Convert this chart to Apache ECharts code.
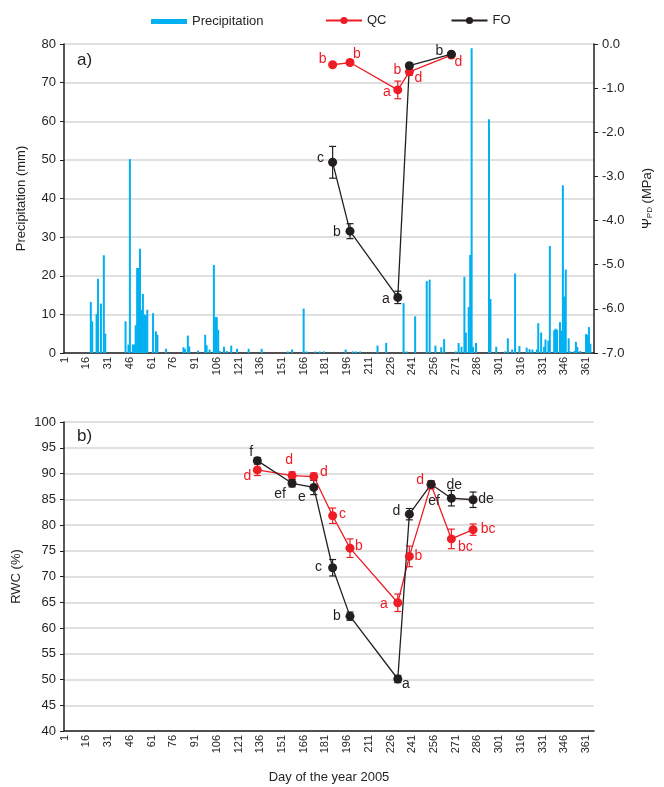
<!DOCTYPE html>
<html>
<head>
<meta charset="utf-8">
<script src="https://cdn.jsdelivr.net/npm/echarts@6/dist/echarts.min.js"></script>
<style>
html,body{margin:0;padding:0;background:#fff;}
#chart{width:664px;height:787px;}
</style>
</head>
<body>
<div id="chart"></div>
<script>
// ---------- DATA ----------
const dayCount = 366;
const tickLabels = ['1','16','31','46','61','76','91','106','121','136','151','166','181','196','211','226','241','256','271','286','301','316','331','346','361'];

// daily precipitation (mm): day of year and amount
const precipDays = [19,20,23,24,26,28,29,43,45,46,48,49,50,51,52,53,54,55,56,57,58,62,64,65,71,83,84,86,87,93,98,99,101,104,105,106,107,108,111,113,116,120,128,137,155,158,166,168,174,177,180,195,200,202,205,217,223,235,237,243,251,253,257,261,263,271,273,275,277,278,280,281,282,283,285,294,295,299,305,307,310,312,315,320,322,324,327,328,330,332,333,335,336,339,340,341,343,344,345,346,347,349,350,353,354,355,357,361,362,363,364];
const precipMm   = [13.2,8.2,10.1,19.2,12.8,25.3,5.0,8.2,2.2,50.2,2.2,2.2,7.2,22.0,22.0,27.0,11.2,15.3,10.0,9.8,11.2,10.3,5.6,4.7,1.1,1.5,1.1,4.5,1.7,0.6,4.7,2.0,0.9,22.8,9.3,9.3,6.0,0.5,1.6,0.5,1.9,1.1,1.1,1.1,0.4,0.9,11.5,0.4,0.4,0.4,0.4,0.9,0.4,0.4,0.4,1.9,2.6,12.9,0.4,9.5,18.6,19.0,1.9,1.5,3.6,0.4,2.6,1.6,19.7,5.3,11.9,25.4,78.9,1.6,2.6,60.5,14.0,1.6,0.4,3.8,0.9,20.6,1.8,1.4,1.0,0.9,0.9,7.7,5.3,1.6,3.5,3.2,27.7,5.9,6.3,6.0,8.0,5.8,43.4,14.6,21.6,3.8,0.4,0.5,2.9,1.6,0.5,4.9,4.7,6.7,2.4];

// predawn water potential (MPa)
const psiDays  = [186,198,231,239,268];
const qcPsi    = [-0.47,-0.42,-1.04,-0.63,-0.25];
const qcPsiErr = [0.04,0.04,0.20,0.08,0.05];
const qcPsiLetters = ['b','b','a','d','d'];
const foPsi    = [-2.68,-4.24,-5.74,-0.49,-0.23];
const foPsiErr = [0.36,0.17,0.14,0.05,0.04];
const foPsiLetters = ['c','b','a','b','b'];

// relative water content (%)
const rwcDays  = [134,158,173,186,198,231,239,254,268,283];
const qcRwc    = [90.7,89.6,89.4,81.8,75.5,64.9,73.9,87.8,77.3,79.1];
const qcRwcErr = [1.1,0.7,0.7,1.5,1.8,1.7,2.0,0.8,1.9,1.1];
const qcRwcLetters = ['d','d','d','c','b','a','b','d','bc','bc'];
const foRwc    = [92.5,88.1,87.3,71.7,62.3,50.1,82.1,87.9,85.2,84.9];
const foRwcErr = [0.6,0.7,1.4,1.6,0.8,0.7,1.1,0.6,1.5,1.5];
const foRwcLetters = ['f','ef','e','c','b','a','d','ef','de','de'];

// ---------- STYLE (label placement offsets, px) ----------
const qcPsiOff = [[-10,-6],[7,-8],[-11,2],[9,6],[7,7]];
const foPsiOff = [[-12,-4],[-13,1],[-12,2],[-12,5],[-12,-3]];
const foPsiLabelColor = [null,null,null,'#EE1C25',null];
const qcRwcOff = [[-10,6],[-3,-15],[10,-4],[10,-2],[9,-2],[-14,1],[9,0],[-11,-5],[14,8],[15,0]];
const foRwcOff = [[-6,-8],[-12,11],[-12,10],[-14,-1],[-13,0],[8,5],[-13,-3],[3,17],[3,-13],[13,-1]];

const RED = '#EE1C25', BLACK = '#231F20', BLUE = '#00B0F0';
const FONT = 'Liberation Sans, Arial, sans-serif';
const TXT = '#231F20';

// ---------- BUILD ----------
const days = [];
for (let d = 1; d <= dayCount; d++) days.push(String(d));
const precipSeries = days.map(() => null);
precipDays.forEach((d, i) => { precipSeries[d - 1] = precipMm[i]; });

const showTick = (idx, val) => tickLabels.indexOf(val) >= 0;

function xAxisCfg(gridIndex, withName) {
  return {
    type: 'category', gridIndex, data: days, boundaryGap: true,
    axisLine: {onZero: false, lineStyle: {color: BLACK, width: 1.5}},
    axisTick: {interval: showTick, alignWithLabel: true, length: 3, lineStyle: {color: BLACK}},
    axisLabel: {interval: showTick, rotate: 90, fontSize: 11, color: TXT, fontFamily: FONT, margin: 4},
    splitLine: {show: false},
    name: withName ? 'Day of the year 2005' : '',
    nameLocation: 'middle', nameGap: 40,
    nameTextStyle: {fontSize: 13, color: TXT, fontFamily: FONT}
  };
}

function pointData(ds, vals, letters, offs, colors) {
  return ds.map((d, i) => {
    const lab = {formatter: letters[i], offset: offs[i]};
    if (colors && colors[i]) lab.color = colors[i];
    return {value: [d - 1, vals[i]], label: lab};
  });
}

function lineSeries(name, xi, yi, data, color) {
  return {
    name, type: 'line', xAxisIndex: xi, yAxisIndex: yi, data,
    symbol: 'circle', symbolSize: 9, showAllSymbol: true,
    lineStyle: {color, width: 1.3}, itemStyle: {color},
    label: {show: true, position: 'inside', color, fontSize: 14, fontFamily: FONT},
    z: 6, animation: false
  };
}

function errSeries(xi, yi, ds, vals, errs, color) {
  return {
    type: 'custom', xAxisIndex: xi, yAxisIndex: yi, silent: true, z: 5, animation: false,
    data: ds.map((d, i) => [d - 1, vals[i], errs[i]]),
    encode: {x: 0, y: 1},
    renderItem: (params, api) => {
      const x = api.value(0), m = api.value(1), e = api.value(2);
      const t = api.coord([x, m + e]), b = api.coord([x, m - e]);
      const w = 3.5, st = {stroke: color, lineWidth: 1.2};
      return {type: 'group', children: [
        {type: 'line', shape: {x1: t[0], y1: t[1], x2: b[0], y2: b[1]}, style: st},
        {type: 'line', shape: {x1: t[0] - w, y1: t[1], x2: t[0] + w, y2: t[1]}, style: st},
        {type: 'line', shape: {x1: b[0] - w, y1: b[1], x2: b[0] + w, y2: b[1]}, style: st}
      ]};
    }
  };
}

const axisLab = {fontSize: 13, color: TXT, fontFamily: FONT};

const option = {
  animation: false,
  textStyle: {fontFamily: FONT},
  legend: [
    {data: ['Precipitation'], left: 146, top: 10, itemWidth: 36, itemHeight: 5, icon: 'rect',
     textStyle: {fontSize: 13, color: TXT, fontFamily: FONT}},
    {data: ['QC', 'FO'], left: 320, top: 9, itemWidth: 36, itemHeight: 9, itemGap: 64,
     textStyle: {fontSize: 13, color: TXT, fontFamily: FONT}}
  ],
  grid: [
    {left: 64, right: 70, top: 44, height: 309},
    {left: 64, right: 70, top: 422, height: 309}
  ],
  xAxis: [xAxisCfg(0, false), xAxisCfg(1, true)],
  yAxis: [
    {type: 'value', gridIndex: 0, min: 0, max: 80, interval: 10, position: 'left',
     name: 'Precipitation (mm)', nameLocation: 'middle', nameGap: 36, nameRotate: 90,
     nameTextStyle: {fontSize: 13, color: TXT, fontFamily: FONT},
     axisLine: {show: true, lineStyle: {color: BLACK, width: 1.5}},
     axisTick: {show: true, length: 4, lineStyle: {color: BLACK}},
     axisLabel: Object.assign({margin: 8}, axisLab),
     splitLine: {show: true, lineStyle: {color: '#d6d6d6', width: 1.5}}},
    {type: 'value', gridIndex: 0, min: -7, max: 0, interval: 1, position: 'right',
     name: '{a|Ψ}{s|PD}{a| (MPa)}', nameLocation: 'middle', nameGap: 46, nameRotate: 90,
     nameTextStyle: {fontSize: 13, color: TXT, fontFamily: FONT,
       rich: {a: {fontSize: 13, color: TXT, fontFamily: FONT}, s: {fontSize: 8, color: TXT, fontFamily: FONT, padding: [6, 0, 0, 0]}}},
     axisLine: {show: true, lineStyle: {color: BLACK, width: 1.5}},
     axisTick: {show: true, length: 4, lineStyle: {color: BLACK}},
     axisLabel: Object.assign({margin: 8, formatter: v => v.toFixed(1)}, axisLab),
     splitLine: {show: false}},
    {type: 'value', gridIndex: 1, min: 40, max: 100, interval: 5,
     name: 'RWC (%)', nameLocation: 'middle', nameGap: 34, nameRotate: 90,
     nameTextStyle: {fontSize: 13, color: TXT, fontFamily: FONT},
     axisLine: {show: true, lineStyle: {color: BLACK, width: 1.5}},
     axisTick: {show: true, length: 4, lineStyle: {color: BLACK}},
     axisLabel: Object.assign({margin: 8}, axisLab),
     splitLine: {show: true, lineStyle: {color: '#d6d6d6', width: 1.5}}}
  ],
  graphic: [
    {type: 'text', left: 77, top: 52, style: {text: 'a)', fontSize: 17, fill: TXT, fontFamily: FONT}},
    {type: 'text', left: 77, top: 428, style: {text: 'b)', fontSize: 17, fill: TXT, fontFamily: FONT}}
  ],
  series: [
    {name: 'Precipitation', type: 'bar', xAxisIndex: 0, yAxisIndex: 0, data: precipSeries,
     barWidth: 2, itemStyle: {color: BLUE}, z: 2, animation: false},
    errSeries(0, 1, psiDays, qcPsi, qcPsiErr, RED),
    lineSeries('QC', 0, 1, pointData(psiDays, qcPsi, qcPsiLetters, qcPsiOff), RED),
    errSeries(0, 1, psiDays, foPsi, foPsiErr, BLACK),
    lineSeries('FO', 0, 1, pointData(psiDays, foPsi, foPsiLetters, foPsiOff, foPsiLabelColor), BLACK),
    errSeries(1, 2, rwcDays, qcRwc, qcRwcErr, RED),
    lineSeries('QC', 1, 2, pointData(rwcDays, qcRwc, qcRwcLetters, qcRwcOff), RED),
    errSeries(1, 2, rwcDays, foRwc, foRwcErr, BLACK),
    lineSeries('FO', 1, 2, pointData(rwcDays, foRwc, foRwcLetters, foRwcOff), BLACK)
  ]
};

const chart = echarts.init(document.getElementById('chart'), null, {renderer: 'canvas'});
chart.setOption(option);
</script>
</body>
</html>
